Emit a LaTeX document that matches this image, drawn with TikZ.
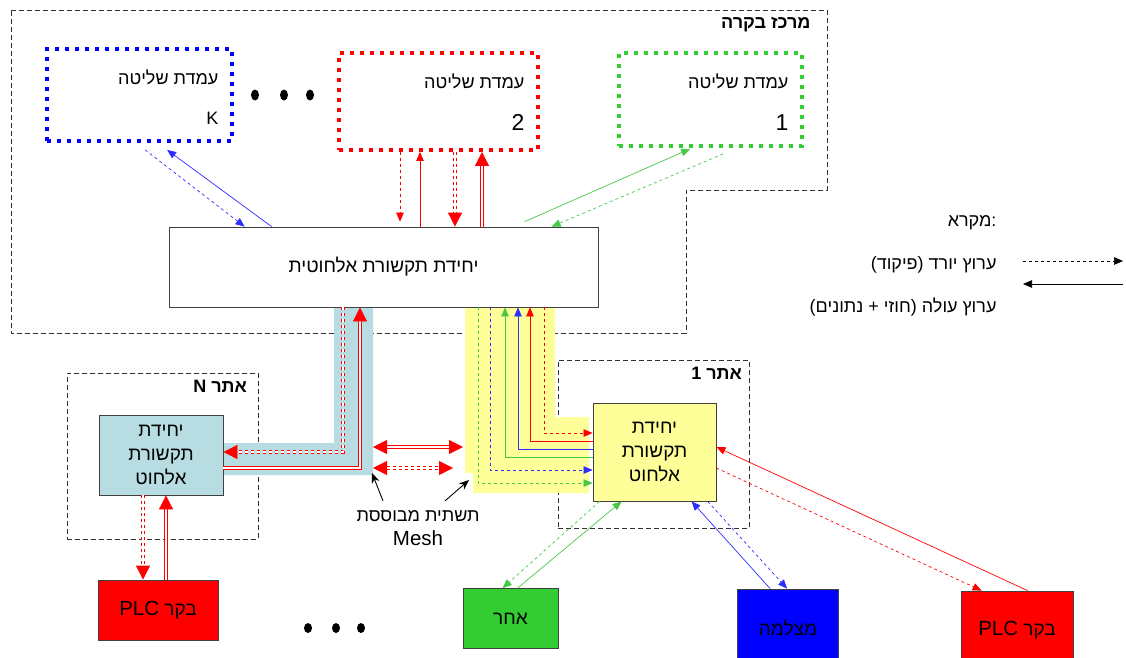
\documentclass[tikz,border=0pt]{standalone}
\usepackage{fontspec}
\setmainfont{Liberation Sans}
\newfontfamily\hebfont[Script=Hebrew]{Liberation Sans}
\TeXXeTstate=1
\usetikzlibrary{arrows.meta,calc}
\definecolor{stBlue}{RGB}{0,0,255}
\definecolor{stRed}{RGB}{255,0,0}
\definecolor{stGreen}{RGB}{51,204,51}
\definecolor{lnBlue}{RGB}{45,45,255}
\definecolor{lnGreen}{RGB}{70,200,70}
\definecolor{bandBlue}{RGB}{183,221,226}
\definecolor{bandYellow}{RGB}{255,255,153}
\newcommand{\hb}[1]{{\hebfont\beginR #1\endR}}
\newcommand{\lat}[1]{{\fontsize{20.5}{24}\selectfont #1}}

\begin{document}
\begin{tikzpicture}[
  x=1pt, y=-1pt,
  font=\fontsize{18}{22}\selectfont,
  station/.style={draw=#1, line width=3.8pt, dash pattern=on 3.8pt off 6.2pt},
  unit/.style={draw=black!75, fill=#1, line width=0.8pt, align=center, inner sep=0pt,
    font=\fontsize{19}{24}\selectfont},
  site/.style={draw=black!80, dash pattern=on 5pt off 3pt, line width=0.8pt},
  title/.style={font=\fontsize{18}{22}\selectfont\bfseries},
  tip/.style={-{Triangle[length=9pt,width=7.5pt]}},
  cmd/.style={tip, dashed, line width=0.7pt},
  dat/.style={tip, line width=0.7pt},
  big/.style={line width=0.8pt, double=white, double distance=1.8pt,
    -{Triangle[length=14pt,width=14pt]}},
  bigcmd/.style={big, dashed},
  mesh/.style={line width=0.8pt, double=white, double distance=1.8pt,
    {Triangle[length=14pt,width=14pt]}-{Triangle[length=14pt,width=14pt]}},
  ptr/.style={-{Stealth[length=10pt,width=8pt]}, line width=0.9pt}
]
\useasboundingbox (0,0) rectangle (1126,657);

% control centre and sites
\draw[site] (11,10) -- (827,10) -- (827,190) -- (686,190) -- (686,333) -- (11,333) -- cycle;
\node[anchor=east, title] (ccLbl) at (814,25) {\hb{מרכז בקרה}};
\node[site, minimum width=191pt, minimum height=166pt] (siteN) at (162.5,456) {};
\node[site, minimum width=191pt, minimum height=168pt] (site1) at (653.5,444) {};
\node[anchor=east, title] (siteNLbl) at ($(siteN.north east)+(-8,14)$) {\hb{אתר N}};
\node[anchor=east, title] (site1Lbl) at ($(site1.north east)+(-4,14)$) {\hb{אתר 1}};

% highlighted channels
\fill[bandBlue] (334,307) -- (373,307) -- (373,475) -- (224,475) -- (224,443) -- (334,443) -- cycle;
\fill[bandYellow] (465,307) -- (555,307) -- (555,417) -- (589,417) -- (589,493)
  -- (473,493) -- (473,473) -- (465,473) -- cycle;

% control stations
\node[station=stBlue, minimum width=185pt, minimum height=92pt] (sK) at (139.5,95) {};
\node[station=stRed, minimum width=199pt, minimum height=97pt] (s2) at (438.5,101.5) {};
\node[station=stGreen, minimum width=183pt, minimum height=93pt] (s1) at (710.5,99.5) {};
\foreach \s/\n/\f in {sK/K/18, s2/2/23, s1/1/23} {
  \node[anchor=east] (\s-lbl) at ($(\s.north east)+(-12,30)$) {\hb{עמדת שליטה}};
  \node[anchor=east, font=\fontsize{\f}{24}\selectfont] (\s-num) at ($(\s.north east)+(-12,71)$) {\n};
}
\foreach \x in {255,284,310} \fill (\x,95) ellipse (4pt and 5.5pt);

% units
\node[unit=white, minimum width=429pt, minimum height=80pt] (cu) at (383.5,267) {\hb{יחידת תקשורת אלחוטית}};
\node[unit=bandBlue, minimum width=124pt, minimum height=80pt] (uN) at (161,455) {\hb{יחידת}\\\hb{תקשורת}\\\hb{אלחוט}};
\node[unit=bandYellow, minimum width=123pt, minimum height=98pt] (u1) at (654.5,452) {\hb{יחידת}\\\hb{תקשורת}\\\hb{אלחוט}};

% end devices
\node[unit=stRed, minimum width=120pt, minimum height=60pt] (plcN) at (158,610) {\hb{בקר \lat{PLC}}};
\node[unit=stGreen, minimum width=95pt, minimum height=60pt] (oth) at (510.5,618.5) {\hb{אחר}};
\node[unit=stBlue, minimum width=101pt, minimum height=78pt] (cam) at (788,628) {\hb{מצלמה}};
\node[unit=stRed, minimum width=112pt, minimum height=78pt] (plc1) at (1017,630) {\hb{בקר \lat{PLC}}};
\foreach \x in {308,336,361} \fill (\x,628) ellipse (4pt and 5pt);

% stations <-> central unit
\draw[cmd, lnBlue] ($(sK.south west)+(100,7)$) -- ($(cu.north west)+(76,0)$);
\draw[dat, lnBlue] ($(cu.north west)+(103,0)$) -- ($(sK.south west)+(122,7)$);
\draw[cmd, stRed] (400,0 |- s2.south) -- ($(400,0 |- cu.north)+(0,-5)$);
\draw[dat, stRed] (420,0 |- cu.north) -- (420,0 |- s2.south);
\draw[bigcmd, stRed] (455,0 |- s2.south) -- (455,0 |- cu.north);
\draw[big, stRed] (482,0 |- cu.north) -- (482,0 |- s2.south);
\draw[dat, lnGreen] ($(cu.north west)+(356,-5)$) -- ($(s1.south west)+(73,1)$);
\draw[cmd, lnGreen] ($(s1.south west)+(106,6)$) -- ($(cu.north west)+(383,0)$);

% site N over the wired channel
\draw[bigcmd, stRed] (343,0 |- cu.south) |- (uN.east |- 0,452);
\draw[big, stRed] (uN.east |- 0,468) -| (360,0 |- cu.south);
\draw[bigcmd, stRed] (143,0 |- uN.south) -- (143,0 |- plcN.north);
\draw[big, stRed] (166,0 |- plcN.north) -- (166,0 |- uN.south);

% site 1 over the mesh channel
\foreach \x/\y/\c in {478/483/lnGreen, 490/470/lnBlue, 544/433/stRed}
  \draw[cmd, \c] (\x,0 |- cu.south) |- (u1.west |- 0,\y);
\foreach \x/\y/\c in {505/457/lnGreen, 518/449/lnBlue, 530/441/stRed}
  \draw[dat, \c] (u1.west |- 0,\y) -| (\x,0 |- cu.south);

% mesh link
\coordinate (meshA) at (373,447);
\coordinate (meshB) at (463,447);
\coordinate (meshC) at (373,468);
\coordinate (meshD) at (453,468);
\draw[mesh, stRed] (meshA) -- (meshB);
\draw[mesh, dashed, stRed] (meshC) -- (meshD);
\node[align=center, font=\fontsize{18}{24}\selectfont] (meshLbl) at (418,528) {\hb{תשתית מבוססת}\\\lat{Mesh}};
\coordinate (bandNEnd) at (372,473);
\coordinate (bandYEnd) at (469,480);
\draw[ptr] ($(meshLbl.north)+(-35,-6)$) -- (bandNEnd);
\draw[ptr] ($(meshLbl.north)+(27,-6)$) -- (bandYEnd);

% site 1 end devices
\draw[cmd, lnGreen] ($(u1.south west)+(7,0)$) -- ($(oth.north west)+(40,0)$);
\draw[dat, lnGreen] ($(oth.north west)+(55,0)$) -- ($(u1.south west)+(29,0)$);
\draw[dat, lnBlue] ($(cam.north west)+(33,0)$) -- ($(u1.south west)+(99,0)$);
\draw[cmd, lnBlue] ($(u1.south west)+(115,0)$) -- ($(cam.north west)+(50,0)$);
\draw[dat, stRed] ($(plc1.north west)+(67,0)$) -- ($(u1.east)+(0,-5)$);
\draw[cmd, stRed] ($(u1.east)+(0,16)$) -- ($(plc1.north west)+(21,0)$);

% legend
\node[anchor=east] (lgTitle) at (1000,223) {\hb{מקרא}:};
\node[anchor=east] (lgCmd) at (1000,265) {\hb{ערוץ יורד (פיקוד)}};
\node[anchor=east] (lgDat) at (1000,307) {\hb{ערוץ עולה (חוזי + נתונים)}};
\coordinate (lgCmdA) at (1023,261);
\coordinate (lgCmdB) at (1123,261);
\coordinate (lgDatA) at (1123,284);
\coordinate (lgDatB) at (1023,284);
\draw[cmd] (lgCmdA) -- (lgCmdB);
\draw[dat] (lgDatA) -- (lgDatB);
\end{tikzpicture}
\end{document}
